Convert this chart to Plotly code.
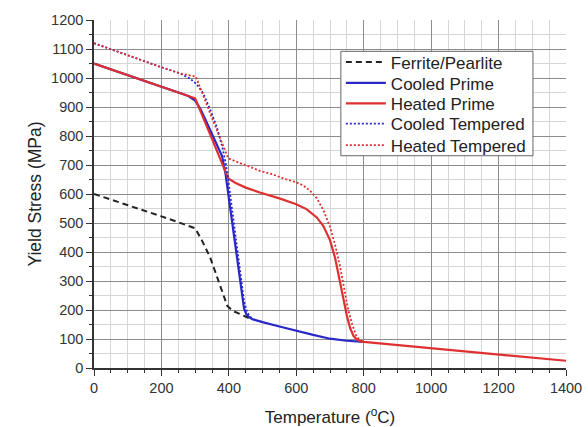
import plotly.graph_objects as go

# ---- data ----
ferrite_x = [0, 100, 200, 300, 320, 345, 375, 395, 410, 430, 460]
ferrite_y = [600, 562, 523, 482, 440, 380, 280, 215, 198, 188, 172]

cooled_prime_x = [0, 100, 200, 250, 280, 300, 315, 330, 355, 380, 390, 405, 420, 435, 445, 452, 460, 470, 480, 500, 550, 600, 650, 700, 750, 800]
cooled_prime_y = [1050, 1010, 970, 952, 938, 922, 895, 858, 795, 730, 670, 545, 420, 290, 205, 185, 175, 168, 164, 158, 143, 128, 114, 101, 94, 90]

heated_prime_x = [0, 100, 200, 250, 300, 350, 398, 420, 450, 492, 550, 600, 630, 660, 680, 700, 715, 730, 740, 750, 760, 770, 780, 790, 800, 1000, 1200, 1400]
heated_prime_y = [1050, 1010, 970, 952, 930, 790, 654, 638, 622, 605, 585, 565, 548, 520, 490, 441, 380, 295, 235, 180, 137, 110, 98, 92, 90, 68, 46, 25]

cooled_temp_x = [0, 100, 200, 255, 285, 305, 324, 345, 364, 380, 390, 398, 405, 420, 435, 445, 455, 465, 480, 500]
cooled_temp_y = [1120, 1078, 1037, 1016, 998, 978, 947, 890, 832, 765, 710, 650, 585, 450, 320, 230, 190, 175, 164, 158]

heated_temp_x = [0, 100, 200, 255, 302, 350, 398, 430, 463, 492, 530, 561, 600, 620, 640, 661, 680, 700, 715, 730, 742, 754, 766, 779, 790, 800]
heated_temp_y = [1120, 1078, 1037, 1016, 1005, 862, 723, 708, 694, 680, 668, 654, 640, 630, 612, 585, 545, 487, 425, 349, 275, 200, 150, 108, 95, 91]

x_ticks = [0, 200, 400, 600, 800, 1000, 1200, 1400]
y_ticks = [0, 100, 200, 300, 400, 500, 600, 700, 800, 900, 1000, 1100, 1200]

BLUE = "#2828c8"
RED = "#de3030"
FONT = "Liberation Sans, Arial, sans-serif"
TXT = "#222222"

fig = go.Figure()
fig.add_trace(go.Scatter(x=ferrite_x, y=ferrite_y, mode="lines", name="Ferrite/Pearlite", legend="legend",
                         line=dict(color="#222222", width=2, dash="6px,4px")))
fig.add_trace(go.Scatter(x=cooled_prime_x, y=cooled_prime_y, mode="lines", name="Cooled Prime", legend="legend2",
                         line=dict(color=BLUE, width=2.2)))
fig.add_trace(go.Scatter(x=heated_prime_x, y=heated_prime_y, mode="lines", name="Heated Prime", legend="legend3",
                         line=dict(color=RED, width=2.2)))
fig.add_trace(go.Scatter(x=cooled_temp_x, y=cooled_temp_y, mode="lines", name="Cooled Tempered", legend="legend4",
                         line=dict(color=BLUE, width=1.8, dash="2px,2px")))
fig.add_trace(go.Scatter(x=heated_temp_x, y=heated_temp_y, mode="lines", name="Heated Tempered", legend="legend5",
                         line=dict(color=RED, width=1.8, dash="2px,2px")))

# hide the gridlines at the top and right edges (reference has none there)
fig.add_shape(type="line", xref="x", yref="y", x0=0, x1=1400, y0=1200, y1=1200,
              line=dict(color="white", width=3), layer="below")
fig.add_shape(type="line", xref="x", yref="y", x0=1400, x1=1400, y0=0, y1=1200,
              line=dict(color="white", width=3), layer="below")
# legend frame
fig.add_shape(type="rect", xref="paper", yref="paper", x0=0.523, x1=0.930, y0=0.610, y1=0.910,
              fillcolor="white", line=dict(color="#666666", width=1), layer="above")

legend_common = dict(x=0.523, xanchor="left", yanchor="middle", bgcolor="rgba(0,0,0,0)",
                     borderwidth=0, font=dict(size=17, family=FONT, color=TXT), itemwidth=40)
legend_y = [0.878, 0.818, 0.759, 0.701, 0.639]

fig.update_layout(
    width=588, height=427,
    margin=dict(l=94, r=22, t=20, b=59, autoexpand=False),
    paper_bgcolor="white", plot_bgcolor="white",
    font=dict(family=FONT, color=TXT, size=14),
    showlegend=True,
    legend=dict(y=legend_y[0], **legend_common),
    legend2=dict(y=legend_y[1], **legend_common),
    legend3=dict(y=legend_y[2], **legend_common),
    legend4=dict(y=legend_y[3], **legend_common),
    legend5=dict(y=legend_y[4], **legend_common),
)
fig.update_xaxes(
    range=[0, 1400], tickvals=x_ticks, ticktext=[str(v) for v in x_ticks],
    showline=True, linecolor="#333333", linewidth=1.5,
    ticks="outside", ticklen=6, tickcolor="#333333", tickwidth=1.3,
    showgrid=True, gridcolor="#8c8c8c", gridwidth=1,
    zeroline=False,
    minor=dict(dtick=50, tick0=0, ticks="outside", ticklen=3, tickcolor="#333333",
               showgrid=True, gridcolor="#d6d6d6", gridwidth=1),
    title=dict(text="Temperature (<sup>o</sup>C)", font=dict(size=17, family=FONT, color=TXT), standoff=21),
    tickfont=dict(size=14.5, family=FONT, color="#333333"),
)
fig.update_yaxes(
    range=[0, 1200], tickvals=y_ticks, ticktext=[str(v) for v in y_ticks],
    showline=True, linecolor="#333333", linewidth=1.5,
    ticks="outside", ticklen=6, tickcolor="#333333", tickwidth=1.3,
    showgrid=True, gridcolor="#8c8c8c", gridwidth=1,
    zeroline=False,
    minor=dict(dtick=50, tick0=0, ticks="outside", ticklen=3, tickcolor="#333333",
               showgrid=True, gridcolor="#d6d6d6", gridwidth=1),
    title=dict(text="Yield Stress (MPa)", font=dict(size=17.5, family=FONT, color=TXT), standoff=5),
    tickfont=dict(size=14.5, family=FONT, color="#333333"),
)

fig.write_html("out.html", config={"displayModeBar": False},
               post_script="document.body.style.margin='0';document.body.style.overflow='hidden';")
